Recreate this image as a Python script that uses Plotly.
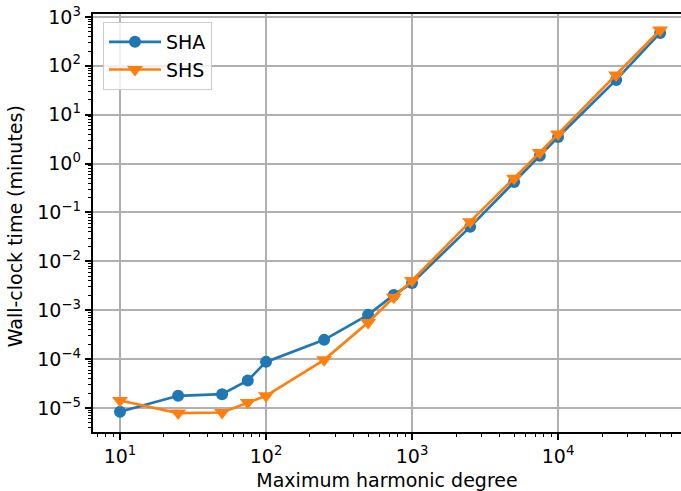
import plotly.graph_objects as go

degrees = [10, 25, 50, 75, 100, 250, 500, 750, 1000, 2500, 5000, 7500, 10000, 25000, 50000]
sha_minutes = [8.4e-6, 1.78e-5, 1.92e-5, 3.66e-5, 8.8e-5, 2.48e-4, 8.05e-4, 2.06e-3, 3.63e-3,
               0.0508, 0.42, 1.44, 3.5, 51.5, 471]
shs_minutes = [1.43e-5, 7.9e-6, 8.1e-6, 1.3e-5, 1.78e-5, 9.7e-5, 5.6e-4, 1.85e-3, 4.05e-3,
               0.065, 0.50, 1.68, 4.05, 65, 542]

y_tickvals = [1e-5, 1e-4, 1e-3, 1e-2, 1e-1, 1e0, 1e1, 1e2, 1e3]
y_ticktext = ["10<sup>−5</sup>", "10<sup>−4</sup>", "10<sup>−3</sup>", "10<sup>−2</sup>",
              "10<sup>−1</sup>", "10<sup>0</sup>", "10<sup>1</sup>", "10<sup>2</sup>", "10<sup>3</sup>"]
x_tickvals = [1e1, 1e2, 1e3, 1e4]
x_ticktext = ["10<sup>1</sup>", "10<sup>2</sup>", "10<sup>3</sup>", "10<sup>4</sup>"]

blue = "#1f77b4"
orange = "#ff7f0e"

fig = go.Figure()
fig.add_trace(go.Scatter(x=degrees, y=sha_minutes, mode="lines+markers", name="SHA",
                         line=dict(color=blue, width=2.7),
                         marker=dict(symbol="circle", size=12, color=blue)))
fig.add_trace(go.Scatter(x=degrees, y=shs_minutes, mode="lines+markers", name="SHS",
                         line=dict(color=orange, width=2.7),
                         marker=dict(symbol="triangle-down", size=14, color=orange)))

font = dict(family="DejaVu Sans", size=19, color="black")
axis_common = dict(type="log", showline=True, linecolor="black", linewidth=1.5, mirror=True,
                   ticks="outside", ticklen=6.5, tickwidth=1.5, tickcolor="black",
                   showgrid=True, gridcolor="#b0b0b0", gridwidth=1.5, zeroline=False,
                   tickfont=font, automargin=False,
                   minor=dict(dtick="D1", ticks="outside", ticklen=3.7, tickwidth=1.1,
                              tickcolor="black", showgrid=False))

fig.update_xaxes(**axis_common, range=[0.815, 4.842], tickvals=x_tickvals, ticktext=x_ticktext,
                 title=dict(text="Maximum harmonic degree", font=font, standoff=9))
fig.update_yaxes(**axis_common, range=[-5.49, 3.06], tickvals=y_tickvals, ticktext=y_ticktext)

fig.add_annotation(text="Wall-clock time (minutes)", textangle=-90, font=font,
                   xref="paper", yref="paper", x=-0.132, y=0.493,
                   xanchor="center", yanchor="middle", showarrow=False)

fig.update_layout(
    width=681, height=491,
    margin=dict(l=93, r=0, t=14, b=59),
    plot_bgcolor="white", paper_bgcolor="white",
    font=font,
    showlegend=True,
    legend=dict(x=0.017, y=0.981, xanchor="left", yanchor="top",
                bgcolor="rgba(255,255,255,0.8)", bordercolor="#cccccc", borderwidth=1,
                font=font, itemwidth=52),
)

fig.write_html("out.html", config={"displayModeBar": False},
               post_script="document.body.style.margin='0';")
